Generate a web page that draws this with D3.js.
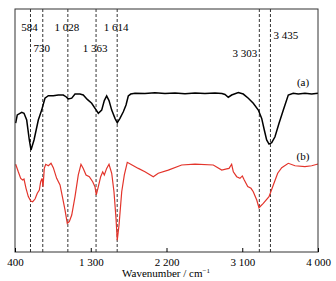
<!DOCTYPE html>
<html>
<head>
<meta charset="utf-8">
<script src="https://cdn.jsdelivr.net/npm/d3@7"></script>
<style>
  body { margin: 0; background: #fff; }
  text { font-family: "Liberation Serif", "DejaVu Serif", serif; }
</style>
</head>
<body>
<div id="graph"></div>
<script>
// wavenumber (cm-1) and transmittance (a.u.)
const wnA = [408,427,480,507,539,570,590,626,677,717,756,796,855,914,974,1006,1033,1074,1113,1172,1211,1259,1311,1359,1390,1430,1461,1489,1517,1549,1588,1615,1647,1687,1719,1746,1775,1826,1944,2063,2182,2301,2420,2539,2657,2776,2859,2895,2934,2974,3053,3112,3172,3231,3291,3331,3362,3390,3418,3450,3489,3537,3588,3647,3706,3766,3845,3925,4000];
const tA = [53.0,56.4,57.5,57.1,54.3,46.1,42.0,46.1,54.3,58.4,63.3,64.3,64.3,64.6,64.6,63.9,63.0,63.3,65.0,65.0,64.6,62.8,61.2,58.7,57.1,58.4,62.3,64.2,62.3,58.4,55.0,53.2,55.0,57.7,60.5,64.2,65.0,65.3,65.2,65.5,65.2,65.4,65.1,65.4,65.2,65.4,65.2,64.8,63.7,64.6,65.6,65.0,63.3,61.2,58.4,55.0,50.2,46.1,44.4,45.0,47.4,53.0,58.4,64.6,65.3,65.0,65.3,65.0,65.3];

const wnB = [408,439,468,491,507,531,558,587,610,638,665,689,705,721,733,748,765,796,828,855,895,935,967,994,1021,1045,1074,1113,1152,1184,1211,1244,1283,1323,1350,1366,1390,1418,1442,1461,1489,1517,1549,1576,1600,1615,1636,1668,1699,1734,1775,1865,1944,2043,2102,2221,2380,2539,2756,2856,2915,2943,2974,2994,3034,3073,3101,3124,3165,3204,3231,3272,3299,3350,3418,3469,3521,3569,3647,3727,3845,3925,4000];
const tB = [36.1,33.0,30.3,29.6,30.0,26.2,22.8,21.0,20.7,21.8,24.2,25.5,28.9,30.3,26.9,34.4,36.1,35.5,36.5,34.7,30.3,27.6,22.1,17.3,11.8,12.5,15.2,22.8,31.7,36.1,34.4,31.7,31.0,28.9,26.9,23.5,26.9,31.0,33.0,31.7,34.4,36.1,32.4,24.8,13.9,4.9,11.1,24.8,31.7,36.9,36.1,34.4,33.0,31.0,32.4,33.7,35.8,36.2,35.8,33.7,34.2,34.4,36.1,33.0,31.0,30.3,31.3,29.6,26.9,26.2,24.8,21.4,18.2,20.0,22.8,27.6,32.4,34.7,36.5,35.5,35.1,35.5,36.2];

const xTicks = [400,1300,2200,3100,4000];
const tickLabels = ['400','1 300','2 200','3 100','4 000'];

const peaks = [584,730,1028,1363,1614,3303,3435];
const peakLabels = ['584','730','1 028','1 363','1 614','3 303','3 435'];
const peakRow = [0,1,0,1,0,2,3];   // which label row
const peakAnchor = ['middle','middle','middle','middle','middle','end','start'];

const w = 336, h = 281;
const padLeft = 15, padRight = 318, padTop = 9, padBottom = 252;

const svg = d3.select('#graph').append('svg')
  .attr('width', w).attr('height', h);

const xScale = d3.scaleLinear().domain([400,4000]).range([padLeft,padRight]);
const yScale = d3.scaleLinear().domain([0,100]).range([padBottom,padTop]);

// dashed marker lines
svg.selectAll('line.peak')
  .data(peaks)
  .enter()
  .append('line')
  .attr('x1', d => xScale(d)).attr('x2', d => xScale(d))
  .attr('y1', padTop).attr('y2', padBottom)
  .attr('stroke', '#000')
  .attr('stroke-width', 0.8)
  .attr('stroke-dasharray', '3,2');

const rowY = [31, 52, 57, 39];
const rowDx = {middle: -1, end: -2, start: 3};
svg.selectAll('text.peak')
  .data(peaks)
  .enter()
  .append('text')
  .attr('x', (d,i) => xScale(d) + rowDx[peakAnchor[i]])
  .attr('y', (d,i) => rowY[peakRow[i]])
  .attr('text-anchor', (d,i) => peakAnchor[i])
  .attr('font-size', 11)
  .text((d,i) => peakLabels[i]);

const line = d3.line()
  .x(d => xScale(d[0]))
  .y(d => yScale(d[1]));

svg.append('path')
  .datum(d3.zip(wnB, tB))
  .attr('d', line)
  .attr('fill', 'none')
  .attr('stroke', '#e3342b')
  .attr('stroke-width', 1.2);

svg.append('path')
  .datum(d3.zip(wnA, tA))
  .attr('d', line)
  .attr('fill', 'none')
  .attr('stroke', '#000')
  .attr('stroke-width', 1.5);

// frame
svg.append('rect')
  .attr('x', padLeft).attr('y', padTop)
  .attr('width', padRight-padLeft).attr('height', padBottom-padTop)
  .attr('fill', 'none')
  .attr('stroke', '#333')
  .attr('stroke-width', 1);

// x axis, ticks inward
const xAxis = d3.axisBottom(xScale)
  .tickValues(xTicks)
  .tickSize(-4)
  .tickPadding(6)
  .tickFormat((d,i) => tickLabels[i]);
const gx = svg.append('g')
  .attr('transform', 'translate(0,' + padBottom + ')')
  .call(xAxis);
gx.select('.domain').remove();
gx.selectAll('text')
  .attr('font-family', '"Liberation Serif", serif')
  .attr('font-size', 11)
  .attr('fill', '#000');

svg.append('text')
  .attr('x', 166).attr('y', 277)
  .attr('text-anchor', 'middle')
  .attr('font-size', 11)
  .html('Wavenumber / cm<tspan dy="-4" font-size="7">−1</tspan>');

// curve labels
svg.append('text').attr('x', 303).attr('y', 86)
  .attr('text-anchor', 'middle').attr('font-size', 11).text('(a)');
svg.append('text').attr('x', 303).attr('y', 160)
  .attr('text-anchor', 'middle').attr('font-size', 11).text('(b)');
</script>
</body>
</html>
